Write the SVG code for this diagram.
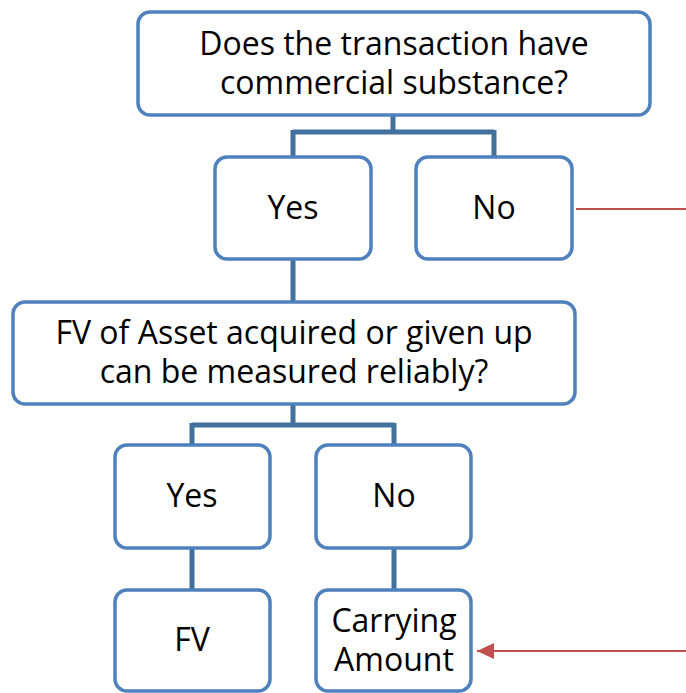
<svg xmlns="http://www.w3.org/2000/svg" width="686" height="693" viewBox="0 0 686 693">
  <style>
    .box { fill: #ffffff; stroke: #4f81bd; stroke-width: 3.5; }
    .lbl { font-family: "Open Sans", "Noto Sans", "DejaVu Sans", sans-serif; font-size: 32px; fill: #000000; text-anchor: middle; }
    .tree { fill: none; stroke: #41719c; stroke-width: 5; }
    .red { fill: none; stroke: #c0504d; stroke-width: 2; }
  </style>
  <defs>
    <marker id="arrowRed" markerWidth="18" markerHeight="16" refX="17" refY="8" orient="auto" markerUnits="userSpaceOnUse" viewBox="0 0 18 16">
      <path d="M0,0 L17,8 L0,16 Z" fill="#c0504d"/>
    </marker>
  </defs>
  <rect width="686" height="693" fill="#ffffff"/>

  <!-- connectors -->
  <g id="connectors">
    <path class="tree" d="M393,115 V132 M293,132 H494 M293,130 V157 M494,130 V157"/>
    <path class="tree" d="M293,259 V302"/>
    <path class="tree" d="M293,404 V425 M192,425 H394 M192,423 V445 M394,423 V445"/>
    <path class="tree" d="M192,548 V590 M394,548 V590"/>
    <path class="red" d="M576,209 H686"/>
    <path class="red" d="M686,651 H477" marker-end="url(#arrowRed)"/>
  </g>

  <g id="q-substance">
    <rect class="box" x="138" y="12" width="512" height="103" rx="12"/>
    <text class="lbl" x="394" y="55">Does the transaction have</text>
    <text class="lbl" x="394" y="94">commercial substance?</text>
  </g>

  <g id="yes-1">
    <rect class="box" x="215" y="157" width="156" height="102" rx="12"/>
    <text class="lbl" x="293" y="219">Yes</text>
  </g>

  <g id="no-1">
    <rect class="box" x="416" y="157" width="156" height="102" rx="12"/>
    <text class="lbl" x="494" y="219">No</text>
  </g>

  <g id="q-fv-reliable">
    <rect class="box" x="13" y="302" width="562" height="102" rx="12"/>
    <text class="lbl" x="294" y="344">FV of Asset acquired or given up</text>
    <text class="lbl" x="294" y="383">can be measured reliably?</text>
  </g>

  <g id="yes-2">
    <rect class="box" x="115" y="445" width="155" height="103" rx="12"/>
    <text class="lbl" x="192" y="507">Yes</text>
  </g>

  <g id="no-2">
    <rect class="box" x="316" y="445" width="155" height="103" rx="12"/>
    <text class="lbl" x="394" y="507">No</text>
  </g>

  <g id="fv">
    <rect class="box" x="115" y="590" width="155" height="101" rx="12"/>
    <text class="lbl" x="192" y="651">FV</text>
  </g>

  <g id="carrying-amount">
    <rect class="box" x="316" y="590" width="155" height="101" rx="12"/>
    <text class="lbl" x="394" y="632">Carrying</text>
    <text class="lbl" x="394" y="671">Amount</text>
  </g>
</svg>
